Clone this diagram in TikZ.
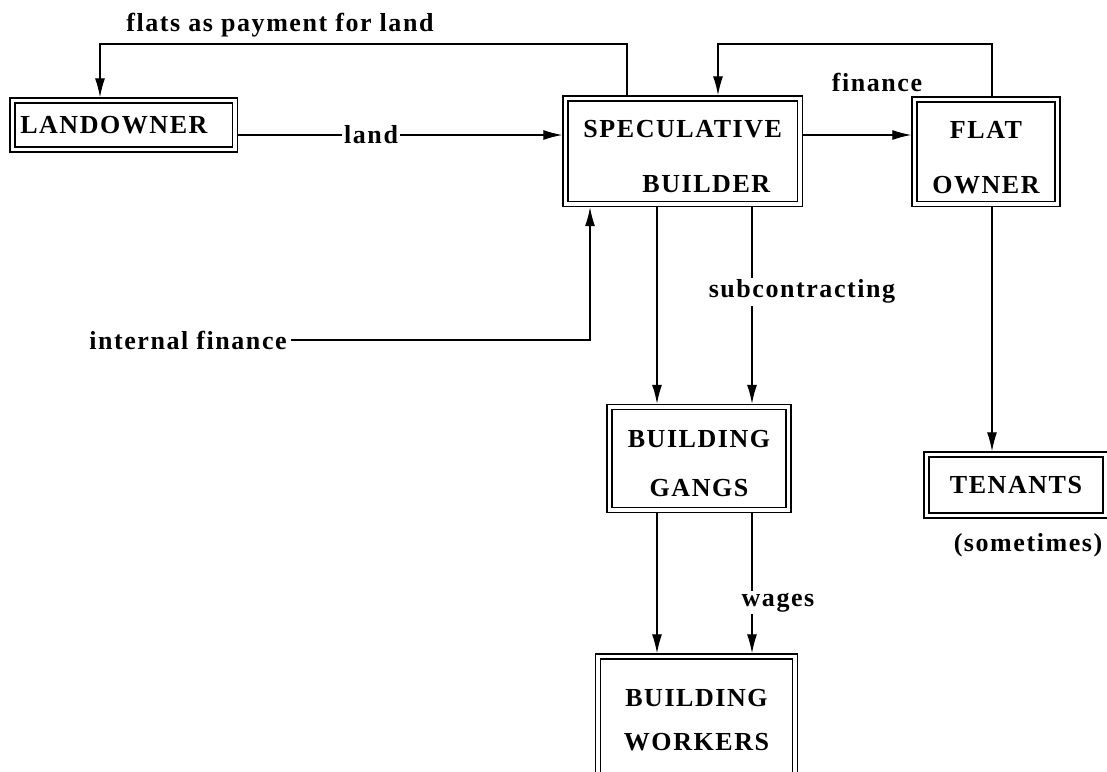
\documentclass[tikz,border=0pt]{standalone}
\usepackage{fontspec}
\setmainfont{Liberation Serif}[LetterSpace=6]
\usetikzlibrary{positioning,calc,arrows.meta}
\tikzset{dbox/.style={draw,double,double distance=3.6pt,line width=1.4pt,outer sep=3.2pt,inner sep=0pt}  }
\tikzset{lab/.style={fill=white,inner sep=2pt}  }
\tikzset{>={Latex[length=19pt,width=10pt]}}

\begin{document}
\begin{tikzpicture}[x=1pt,y=-1pt,line width=1.3pt,font=\fontsize{26}{28}\selectfont\bfseries]
	\useasboundingbox (0,0) rectangle (1107,771);
	\clip (0,0) rectangle (1107,771);
		\node[dbox,minimum width=222.5pt,minimum height=49pt,text width=207pt,align=left] (land) at (123.75,125) {LANDOWNER};
		\node[dbox,minimum width=234.5pt,minimum height=105.5pt,align=left] (spec) at (682.75,151.25) {\mbox{}\\SPECULATIVE\\[27pt]\hspace*{59pt}BUILDER};
		\node[dbox,minimum width=143pt,minimum height=104.5pt,align=center] (flat) at (986,151.75) {\mbox{}\\FLAT\\[27pt]OWNER};
		\node[dbox,minimum width=179pt,minimum height=103pt,align=center] (gangs) at (699,458.5) {\mbox{}\\BUILDING\\[21pt]GANGS};
		\node[dbox,minimum width=197pt,minimum height=127pt,align=center] (work) at (696.5,720) {BUILDING\\[16pt]WORKERS};
		\node[dbox,minimum width=179pt,minimum height=61pt] (ten) at (1016,485) {TENANTS};

		\node[] (pay) at (280,25) {flats as payment for land};
		\node[] (fin) at (877,82) {finance};
		\node[] (inf) at (188,340) {internal finance};
		\node[] (some) at (1028,545) {(sometimes)};

		\coordinate (f1) at (627,44);
		\coordinate (f2) at (100,44);
		\coordinate (g1) at (992,44);
		\coordinate (g2) at (718,44);
		\coordinate (h) at (0,135);
		\coordinate (i1) at (590,0);
		\coordinate (v1) at (657,0);
		\coordinate (v2) at (752,0);

		\draw[->] (spec.north -| f1) -- (f1) -- (f2) -- (land.north -| f2);
		\draw[->] (flat.north -| g1) -- (g1) -- (g2) -- (spec.north -| g2);
		\draw[->] (land.east |- h) -- node[lab,pos=0.41] {land} (spec.west |- h);
		\draw[->] (spec.east |- h) -- (flat.west |- h);
		\draw[->] (inf.east) -| (spec.south -| i1);
		\draw[->] (spec.south -| v1) -- (gangs.north -| v1);
		\draw[->] (spec.south -| v2) -- node[lab,pos=0.43,xshift=50pt] {subcontracting} (gangs.north -| v2);
		\draw[->] (flat.south -| g1) -- (ten.north -| g1);
		\draw[->] (gangs.south -| v1) -- (work.north -| v1);
		\draw[->] (gangs.south -| v2) -- node[lab,pos=0.64,xshift=26pt] {wages} (work.north -| v2);
\end{tikzpicture}
\end{document}
